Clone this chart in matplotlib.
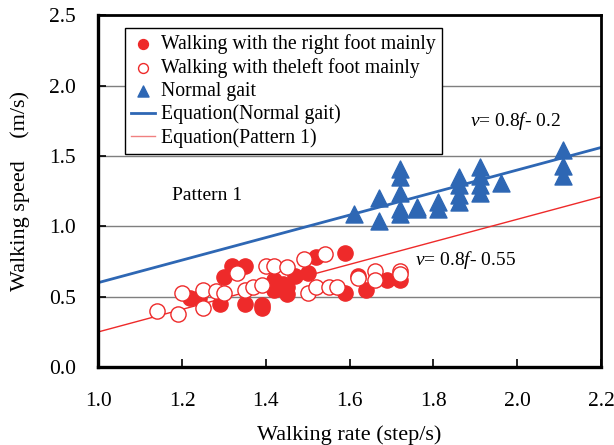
import matplotlib
matplotlib.use("Agg")
import matplotlib.pyplot as plt
import numpy as np

plt.rcParams["font.family"] = ["Liberation Serif", "DejaVu Serif"]
plt.rcParams["mathtext.fontset"] = "custom"
plt.rcParams["mathtext.it"] = "Liberation Serif:italic"
plt.rcParams["mathtext.rm"] = "Liberation Serif"

# walking with the right foot mainly (filled)
right_rate = [1.22, 1.24, 1.29, 1.30, 1.32, 1.35, 1.35, 1.39, 1.42, 1.43, 1.45, 1.45,
              1.47, 1.50, 1.52, 1.59, 1.59, 1.62, 1.64, 1.69, 1.72, 1.42, 1.44, 1.39]
right_speed = [0.49, 0.49, 0.45, 0.64, 0.72, 0.72, 0.45, 0.42, 0.62, 0.56, 0.52, 0.57,
               0.65, 0.67, 0.78, 0.81, 0.53, 0.65, 0.55, 0.62, 0.62, 0.55, 0.59, 0.44]

# walking with the left foot mainly (open)
left_rate = [1.14, 1.19, 1.25, 1.20, 1.25, 1.28, 1.30, 1.33, 1.35, 1.37, 1.39, 1.40,
             1.42, 1.45, 1.49, 1.54, 1.50, 1.52, 1.55, 1.57, 1.62, 1.66, 1.66, 1.72, 1.72]
left_speed = [0.40, 0.38, 0.42, 0.53, 0.55, 0.54, 0.53, 0.67, 0.55, 0.57, 0.58, 0.72,
              0.72, 0.71, 0.77, 0.80, 0.53, 0.57, 0.57, 0.57, 0.63, 0.68, 0.62, 0.68, 0.66]

# normal gait
normal_rate = [1.61, 1.67, 1.67, 1.72, 1.72, 1.72, 1.72, 1.72, 1.76, 1.76, 1.81, 1.81,
               1.86, 1.86, 1.86, 1.86, 1.91, 1.91, 1.91, 1.91, 1.96, 2.11, 2.11, 2.11]
normal_speed = [1.09, 1.20, 1.04, 1.41, 1.35, 1.24, 1.12, 1.09, 1.14, 1.12, 1.17, 1.12,
                1.35, 1.29, 1.22, 1.17, 1.42, 1.36, 1.29, 1.24, 1.31, 1.54, 1.43, 1.36]

slope = 0.8
icpt_normal = -0.2
icpt_pattern = -0.55

red = "#EE2A2A"
blue = "#2E67B4"

fig = plt.figure(figsize=(6.14, 4.45), dpi=100)
ax = fig.add_axes([0.16, 0.175, 0.819, 0.791])

for yv in [0.5, 1.0, 1.5, 2.0]:
    ax.axhline(yv, color="#7f7f7f", lw=1.0, zorder=0)

fx = np.array([1.0, 2.2])
ax.plot(fx, slope * fx + icpt_normal, color=blue, lw=2.0, zorder=2,
        label="Equation(Normal gait)")
ax.plot(fx, slope * fx + icpt_pattern, color=red, lw=1.0, zorder=2,
        label="Equation(Pattern 1)")

ax.scatter(right_rate, right_speed, s=120, color=red, zorder=3,
           label="Walking with the right foot mainly")
ax.scatter(left_rate, left_speed, s=120, facecolor="white", edgecolor=red,
           lw=1.0, zorder=4, label="Walking with theleft foot mainly")
ax.scatter(normal_rate, normal_speed, s=150, marker="^", color=blue, zorder=3,
           label="Normal gait")

ax.set_xlim(1.0, 2.2)
ax.set_ylim(0.0, 2.5)
ax.set_xticks(np.arange(1.0, 2.21, 0.2))
ax.set_yticks(np.arange(0.0, 2.51, 0.5))
ax.xaxis.set_major_formatter(matplotlib.ticker.FormatStrFormatter("%.1f"))
ax.yaxis.set_major_formatter(matplotlib.ticker.FormatStrFormatter("%.1f"))
ax.tick_params(direction="in", length=6, width=1.2, labelsize=15.5)
ax.tick_params(axis="x", pad=18)
ax.tick_params(axis="y", pad=16)
for sp in ax.spines.values():
    sp.set_linewidth(2.0)
ax.spines["left"].set_linewidth(2.4)
ax.spines["bottom"].set_linewidth(2.4)

ax.set_xlabel("Walking rate (step/s)", fontsize=16, labelpad=10)
ax.set_ylabel("Walking speed    (m/s)", fontsize=16, labelpad=14)

ax.text(1.177, 1.22, "Pattern 1", fontsize=14, ha="left", va="center")
ax.text(1.887, 1.75, r"$v$= 0.8$f$- 0.2", fontsize=14, ha="left", va="center")
ax.text(1.756, 0.76, r"$v$= 0.8$f$- 0.55", fontsize=14, ha="left", va="center")

handles, labels = ax.get_legend_handles_labels()
order = [2, 3, 4, 0, 1]
leg = ax.legend([handles[i] for i in order], [labels[i] for i in order],
                loc="upper left", bbox_to_anchor=(0.054, 0.963), borderaxespad=0,
                fontsize=14.2, frameon=True, fancybox=False, edgecolor="black",
                framealpha=1, borderpad=0.3, labelspacing=0.2, handlelength=1.2,
                handletextpad=0.3, markerscale=0.65)
leg.get_frame().set_linewidth(1.0)
leg.legend_handles[4].set_color("#F08080")

fig.savefig("out.png", dpi=100)
